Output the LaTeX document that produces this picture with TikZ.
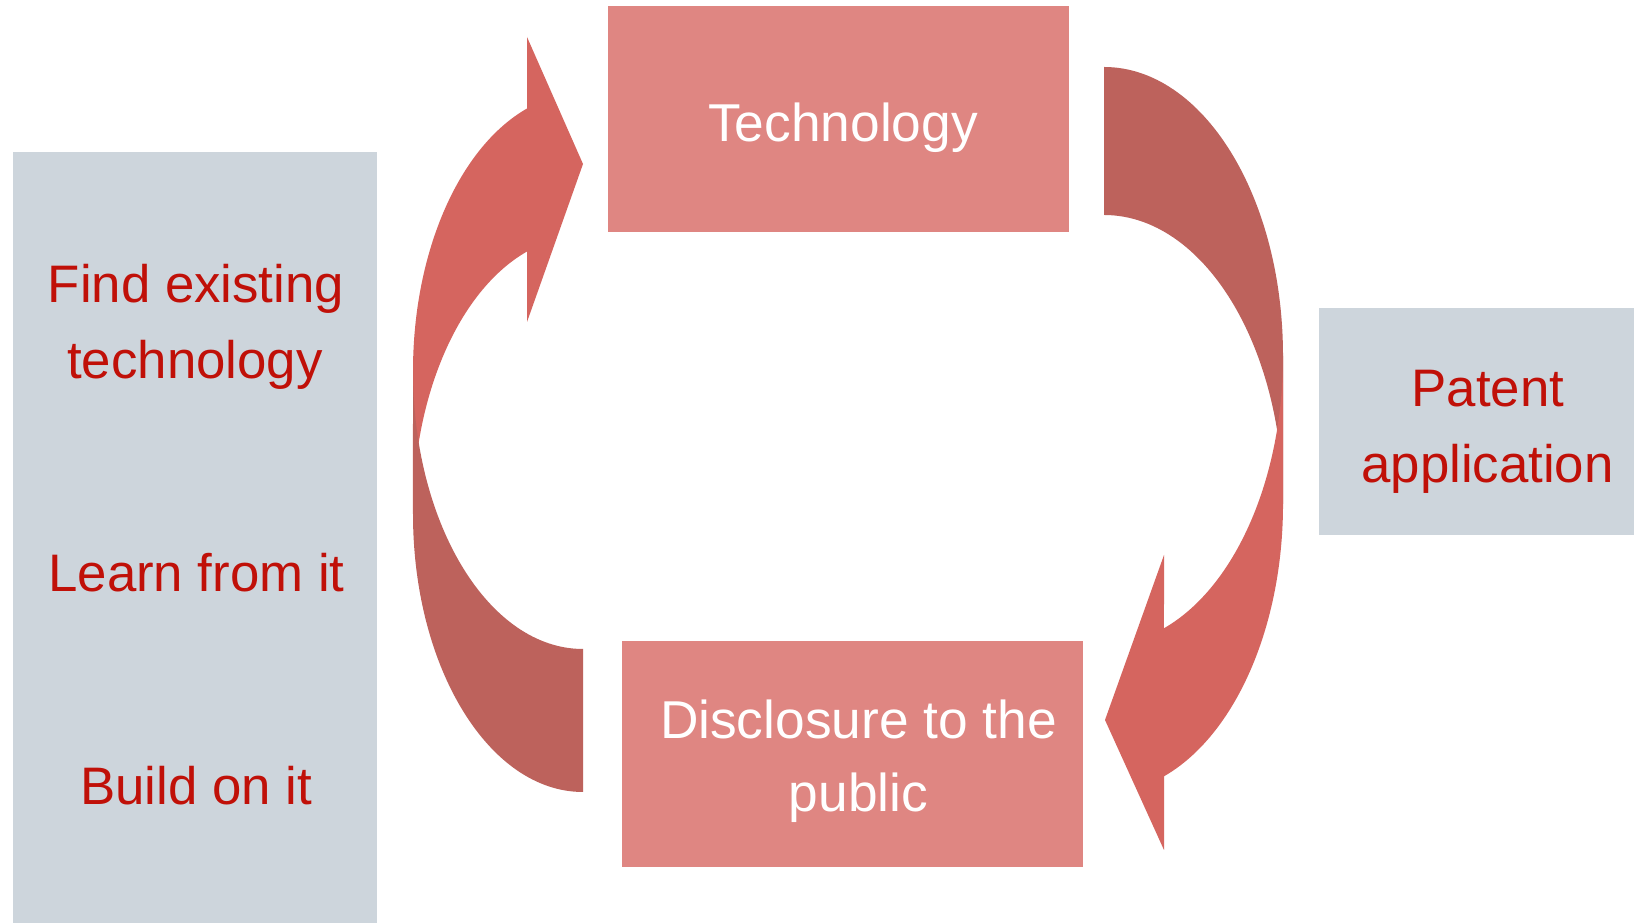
\documentclass[tikz,border=0pt]{standalone}
\usepackage{fontspec}
\setmainfont{Liberation Sans}
\definecolor{boxpink}{RGB}{223,134,130}
\definecolor{boxgrey}{RGB}{205,213,220}
\definecolor{arrowlight}{RGB}{213,101,95}
\definecolor{arrowdark}{RGB}{189,98,92}
\definecolor{txtred}{RGB}{192,16,8}
\begin{document}
\begin{tikzpicture}[x=1pt,y=1pt,
  greybox/.style={fill=boxgrey,draw=none,anchor=south west,inner sep=0pt,outer sep=0pt},
  pinkbox/.style={fill=boxpink,draw=none,anchor=south west,inner sep=0pt,outer sep=0pt},
  redtxt/.style={text=txtred,font=\fontsize{52.8}{62}\selectfont,anchor=base,inner sep=0pt},
  whitetxt/.style={text=white,font=\fontsize{53.3}{63}\selectfont,anchor=base,inner sep=0pt},
  lightarrow/.style={fill=arrowlight},
  darkarrow/.style={fill=arrowdark}]
\useasboundingbox (0,0) rectangle (1634,923);
\fill[white] (0,0) rectangle (1634,923);
% boxes
\node[greybox,minimum width=364pt,minimum height=771pt] (leftbox) at (13,0) {};
\node[greybox,minimum width=315pt,minimum height=227pt] (rightbox) at (1319,388) {};
\node[pinkbox,minimum width=461pt,minimum height=226pt] (techbox) at (608,691) {};
\node[pinkbox,minimum width=461pt,minimum height=226pt] (discbox) at (622,56) {};
% texts
\node[whitetxt] (techtxt) at (843,781) {Technology};
\node[whitetxt] (disc1) at (858.5,184) {Disclosure to the};
\node[whitetxt] (disc2) at (858.5,111) {public};
\node[redtxt] (find1) at (196,620) {Find existing};
\node[redtxt] (find2) at (195,544) {technology};
\node[redtxt] (learn) at (196.5,331) {Learn from it};
\node[redtxt] (build) at (196,118) {Build on it};
\node[redtxt] (pat1) at (1488,516) {Patent};
\node[redtxt] (pat2) at (1487.5,440) {application};
% left curved arrow (points right at top)
\fill[lightarrow] (413,552) arc[start angle=180,end angle=109.23,x radius=170,y radius=278]
  -- (527,886) -- (583,759) -- (527,601) -- (527,671.5)
  arc[start angle=109.23,end angle=180,x radius=170,y radius=278] -- cycle;
\fill[darkarrow] (583,274) arc[start angle=270,end angle=180,x radius=170,y radius=278]
  -- (413,409) arc[start angle=180,end angle=270,x radius=170,y radius=278] -- cycle;
% right curved arrow (points left at bottom)
\fill[darkarrow] (1104,856) arc[start angle=90,end angle=0,x radius=179,y radius=289]
  -- (1283,419) arc[start angle=0,end angle=90,x radius=179,y radius=289] -- cycle;
\fill[lightarrow] (1283,567) arc[start angle=0,end angle=-70.42,x radius=179,y radius=289]
  -- (1164,368) -- (1105,203) -- (1164,73) -- (1164,146.7)
  arc[start angle=-70.42,end angle=0,x radius=179,y radius=289] -- cycle;
\end{tikzpicture}
\end{document}
